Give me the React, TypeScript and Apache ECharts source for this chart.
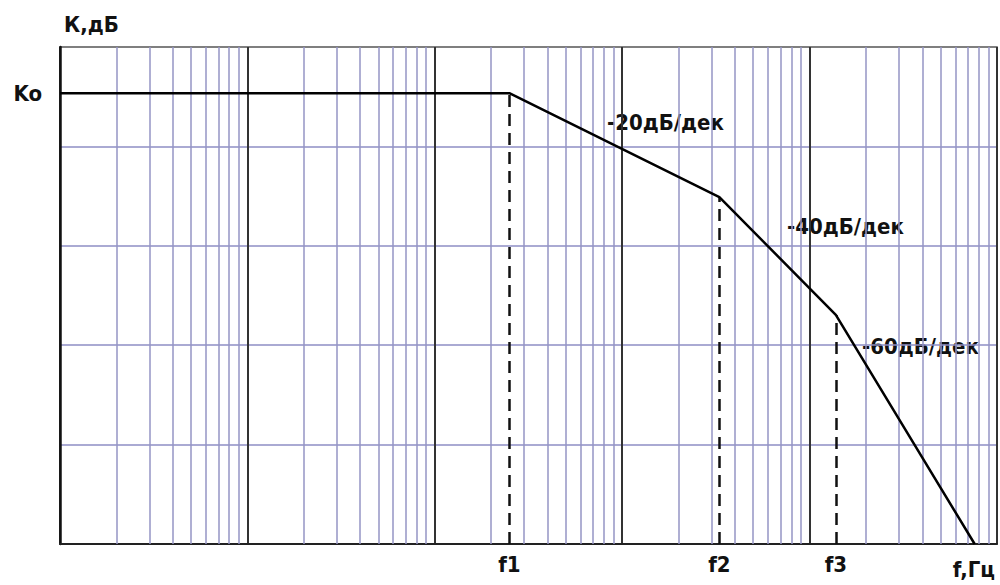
import React, { useEffect, useRef } from "react";
import * as echarts from "echarts";

// Frequency axis (Hz, log) and gain (dB)
const freqMin = 1;
const freqMax = 100000;
const gainMin = -100;
const gainMax = 0;
const gainStep = 20;

// Asymptotic response: break points
const KO = -9.3;
const curveFreq = [1, 250, 3300, 13800, 76000];
const curveGain = [KO, KO, -30.2, -53.9, -100];

// Corner frequencies (dashed drop lines)
const cornerNames = ["f1", "f2", "f3"];
const cornerFreq = [250, 3300, 13800];
const cornerGain = [KO, -30.2, -53.9];

// Minor log grid lines (2..9 in each decade)
const decadeStarts = [1, 10, 100, 1000, 10000];
const minorMultipliers = [2, 3, 4, 5, 6, 7, 8, 9];

// Slope annotations
const slopeLabels = ["-20дБ/дек", "-40дБ/дек", "-60дБ/дек"];

const FONT = "'DejaVu Sans Condensed', 'DejaVu Sans', sans-serif";

export default function App() {
  const ref = useRef<HTMLDivElement>(null);

  useEffect(() => {
    if (!ref.current) return;
    const chart = echarts.init(ref.current, null, { renderer: "svg" });

    const minorLines: number[] = [];
    decadeStarts.forEach((d) => minorMultipliers.forEach((m) => minorLines.push(d * m)));

    const txt = {
      fontFamily: FONT,
      fontWeight: "bold" as const,
      fontSize: 22,
      color: "#111",
    };

    chart.setOption({
      animation: false,
      backgroundColor: "#ffffff",
      grid: {
        left: 60,
        right: 3,
        top: 47,
        bottom: 41,
        show: true,
        borderColor: "#555",
        borderWidth: 1.5,
        backgroundColor: "transparent",
      },
      xAxis: {
        type: "log",
        logBase: 10,
        min: freqMin,
        max: freqMax,
        name: "f,Гц",
        nameLocation: "end",
        nameGap: -2,
        nameTextStyle: {
          ...txt,
          align: "right",
          verticalAlign: "top",
          padding: [14, 0, 0, 0],
        },
        axisLine: { show: true, onZero: false, lineStyle: { color: "#222", width: 2 } },
        axisTick: { show: false },
        axisLabel: { show: false },
        splitLine: { show: true, lineStyle: { color: "#333", width: 2 } },
      },
      yAxis: {
        type: "value",
        min: gainMin,
        max: gainMax,
        interval: gainStep,
        name: "К,дБ",
        nameLocation: "end",
        nameGap: 12,
        nameTextStyle: { ...txt, align: "left", padding: [0, 0, 0, 4] },
        axisLine: { show: true, lineStyle: { color: "#111", width: 2.5 } },
        axisTick: { show: false },
        axisLabel: {
          show: true,
          customValues: [KO],
          formatter: () => "Ko",
          margin: 18,
          ...txt,
        },
        splitLine: {
          show: true,
          showMaxLine: false,
          showMinLine: false,
          lineStyle: { color: "#8e8ec4", width: 1.5 },
        },
      },
      graphic: [
        { type: "text", left: 607, top: 111, style: { text: slopeLabels[0], fill: "#111", font: `bold 22px ${FONT}` } },
        { type: "text", left: 787, top: 215, style: { text: slopeLabels[1], fill: "#111", font: `bold 22px ${FONT}` } },
        { type: "text", left: 862, top: 335, style: { text: slopeLabels[2], fill: "#111", font: `bold 22px ${FONT}` } },
      ],
      series: [
        {
          type: "line",
          data: [[freqMin, gainMin]],
          symbol: "none",
          lineStyle: { opacity: 0 },
          silent: true,
          z: 1,
          markLine: {
            silent: true,
            symbol: "none",
            animation: false,
            label: { show: false },
            lineStyle: { color: "#9494c4", width: 1.5, type: "solid" },
            data: minorLines.map((v) => ({ xAxis: v })),
          },
        },
        {
          type: "line",
          data: [[freqMin, gainMin]],
          symbol: "none",
          lineStyle: { opacity: 0 },
          silent: true,
          z: 3,
          markLine: {
            silent: true,
            symbol: "none",
            animation: false,
            lineStyle: { color: "#111", width: 2.5, type: [12, 7] },
            label: {
              show: true,
              position: "start",
              distance: 9,
              formatter: "{b}",
              ...txt,
            },
            data: cornerFreq.map((f, i) => [
              { name: cornerNames[i], coord: [f, gainMin] },
              { coord: [f, cornerGain[i]] },
            ]),
          },
        },
        {
          type: "line",
          data: curveFreq.map((f, i) => [f, curveGain[i]]),
          symbol: "none",
          z: 5,
          lineStyle: { color: "#000", width: 2.5 },
        },
      ],
    });

    return () => chart.dispose();
  }, []);

  return (
    <div
      ref={ref}
      style={{ position: "fixed", left: 0, top: 0, width: 1000, height: 585, background: "#fff" }}
    />
  );
}
